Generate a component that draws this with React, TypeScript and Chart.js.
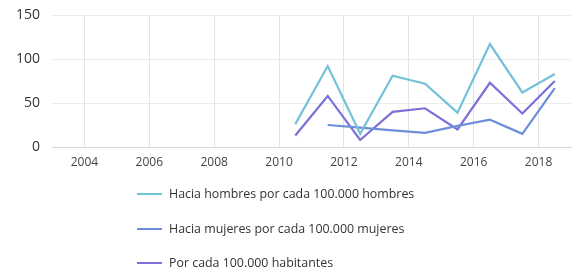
import React, { useEffect, useRef } from "react";
import { Chart, registerables } from "chart.js";

Chart.register(...registerables);

const tickYears = [2004, 2006, 2008, 2010, 2012, 2014, 2016, 2018];
const pointYears = [2010.5, 2011.5, 2012.5, 2013.5, 2014.5, 2015.5, 2016.5, 2017.5, 2018.5];
const hombres = [26, 92, 15, 81, 72, 39, 117, 62, 83];
const mujeres = [null, 25, 22, 19, 16, 24, 31, 15, 67];
const habitantes = [13, 58, 8, 40, 44, 20, 73, 38, 75];
const seriesNames = [
  "Hacia hombres por cada 100.000 hombres",
  "Hacia mujeres por cada 100.000 mujeres",
  "Por cada 100.000 habitantes",
];
const seriesColors = ["#72c2d8", "#6d8fd9", "#7a70d8"];

const FONT = "'Open Sans', 'Noto Sans', sans-serif";

const legendPlugin = {
  id: "vlegend",
  afterDraw(chart: any) {
    const ctx = chart.ctx;
    const rows = [194, 229, 263];
    ctx.save();
    chart.data.datasets.forEach((ds: any, i: number) => {
      const y = rows[i];
      ctx.strokeStyle = ds.borderColor;
      ctx.lineWidth = 2;
      ctx.beginPath();
      ctx.moveTo(137, y);
      ctx.lineTo(162, y);
      ctx.stroke();
      ctx.fillStyle = "#333333";
      ctx.font = `12.4px ${FONT}`;
      ctx.textBaseline = "middle";
      ctx.textAlign = "left";
      ctx.fillText(ds.label, 169, y);
    });
    ctx.restore();
  },
};

export default function App() {
  const ref = useRef<HTMLCanvasElement | null>(null);
  useEffect(() => {
    document.body.style.margin = "0";
    const mk = (vals: (number | null)[]) => pointYears.map((x, i) => ({ x, y: vals[i] }));
    const chart = new Chart(ref.current!, {
      type: "line",
      data: {
        datasets: [hombres, mujeres, habitantes].map((vals, i) => ({
          label: seriesNames[i],
          data: mk(vals) as any,
          borderColor: seriesColors[i],
          backgroundColor: seriesColors[i],
          borderWidth: 2.2,
          pointRadius: 0,
          tension: 0,
          spanGaps: false,
        })),
      },
      options: {
        animation: false,
        responsive: false,
        maintainAspectRatio: false,
        layout: { padding: { top: 15, right: 3, bottom: 100, left: 0 } },
        plugins: { legend: { display: false }, tooltip: { enabled: false } },
        scales: {
          x: {
            type: "linear",
            min: 2003,
            max: 2019,
            afterBuildTicks: (s: any) => {
              s.ticks = tickYears.map((v) => ({ value: v }));
            },
            afterFit: (s: any) => {
              s.height = 25;
              s.paddingTop = 0;
              s.paddingBottom = 0;
            },
            grid: { color: "#e3e3e3", drawTicks: false },
            border: { display: true, color: "#d9d9d9" },
            ticks: {
              padding: 8,
              color: "#444444",
              font: { family: FONT, size: 12 },
              callback: (v: any) => String(v),
              maxRotation: 0,
              autoSkip: false,
            },
          },
          y: {
            min: 0,
            max: 150,
            afterBuildTicks: (s: any) => {
              s.ticks = [0, 50, 100, 150].map((v) => ({ value: v }));
            },
            afterFit: (s: any) => {
              s.width = 52;
              s.paddingTop = 0;
              s.paddingBottom = 0;
            },
            grid: { color: "#ebebeb", drawTicks: false },
            border: { display: false },
            ticks: {
              padding: 12,
              color: "#333333",
              font: { family: FONT, size: 14 },
            },
          },
        },
      },
      plugins: [legendPlugin],
    });
    return () => chart.destroy();
  }, []);
  return (
    <div style={{ position: "absolute", left: 0, top: 0, width: 574, height: 272 }}>
      <canvas ref={ref} width={574} height={272} style={{ width: 574, height: 272 }} />
    </div>
  );
}
